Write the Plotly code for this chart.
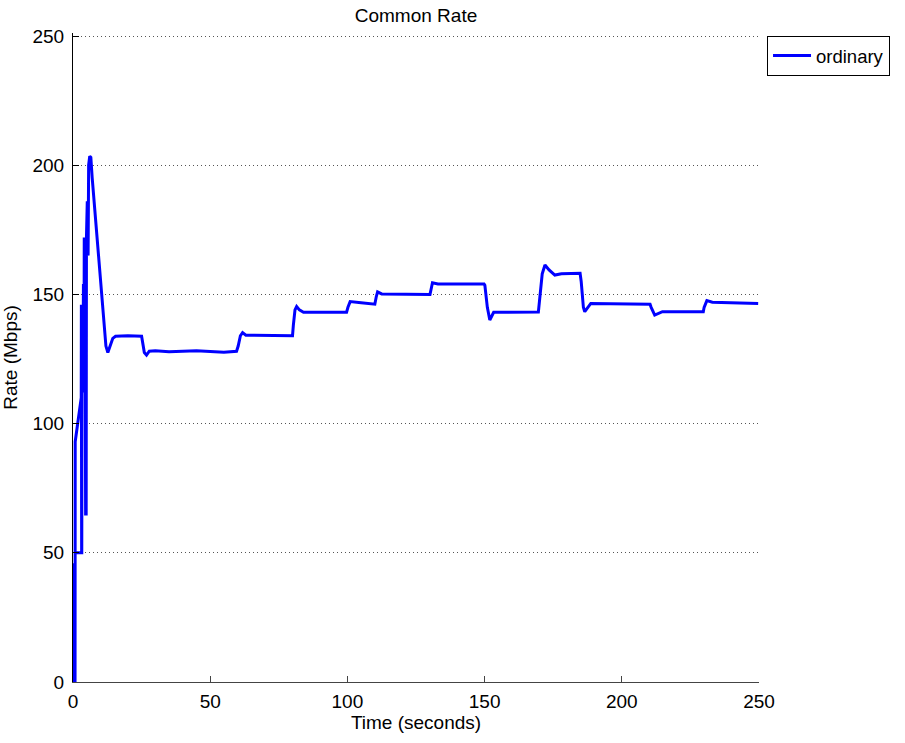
import plotly.graph_objects as go

# Common rate of the "ordinary" flow over time (seconds, Mbps)
time_s = [
    0.0, 0.4, 0.5, 0.6, 0.75,
    0.8, 1.8, 3.0, 3.05, 3.15, 0.8,
    3.2, 3.3, 3.6, 3.8, 4.0, 4.1, 4.4, 4.6, 4.8, 4.9, 5.2, 5.5, 5.7, 6.1, 6.5, 7.0,
    12.0, 12.7, 13.5, 14.5, 15.5, 20.0, 25.0, 25.4, 26.0, 26.8, 27.8, 30.0,
    35.0, 45.0, 55.0, 59.6, 60.2, 61.0, 61.8, 63.0, 70.0, 80.0,
    80.3, 80.9, 81.5, 82.5, 84.0, 99.7,
    100.2, 101.0, 105.0, 110.0,
    110.5, 111.0, 112.5, 130.1,
    130.5, 131.0, 133.0, 149.8,
    150.1, 151.0, 151.9, 153.3, 169.6,
    170.0, 171.0, 172.0, 173.5, 175.6, 178.0, 184.8,
    185.2, 186.0, 186.5, 188.7, 210.3,
    210.7, 212.0, 214.8, 229.7,
    230.0, 231.0, 233.0, 249.7,
]
rate_mbps = [
    0, 0, 46, 0, 0,
    93, 100, 110, 146, 50, 50,
    50, 146, 112, 154, 118, 172, 150, 65, 65, 172, 186, 165, 200, 203.5, 203, 195,
    130, 127.5, 130, 133, 133.8, 134, 133.8, 131, 127.5, 126.5, 128, 128.2,
    127.8, 128.2, 127.6, 128, 130, 134, 135.2, 134.2, 134, 134,
    138, 144, 145.3, 144, 143.1, 143.1,
    145, 147.2, 146.8, 146.2,
    149, 151, 150.2, 150,
    152, 154.5, 154, 154,
    153.5, 145, 140.1, 143.1, 143.2,
    147, 158, 161.4, 159.5, 157.5, 158, 158.2,
    155, 145, 143.3, 146.5, 146.2,
    145, 142, 143.3, 143.3,
    145, 147.6, 147, 146.5,
]

x_ticks = [0, 50, 100, 150, 200, 250]
y_ticks = [0, 50, 100, 150, 200, 250]

FONT = "Liberation Sans, Arial, sans-serif"
FS = 19

fig = go.Figure()
fig.add_trace(go.Scatter(
    x=time_s, y=rate_mbps, mode="lines", name="ordinary",
    line=dict(color="#0000ff", width=3),
))

fig.update_layout(
    width=905, height=743,
    margin=dict(l=73, r=146, t=33, b=61),
    paper_bgcolor="white", plot_bgcolor="white",
    font=dict(family=FONT, size=FS, color="black"),
    title=dict(
        text="Common Rate", x=416 / 905, xanchor="center",
        y=1 - 15 / 743, yanchor="middle", yref="container",
        font=dict(family=FONT, size=FS, color="black"),
    ),
    showlegend=True,
    legend=dict(
        x=1.0117, y=(649 - 3) / 649, xanchor="left", yanchor="top",
        bordercolor="black", borderwidth=1, bgcolor="white",
        font=dict(family=FONT, size=18.5, color="black"),
        itemwidth=38, tracegroupgap=0,
    ),
)

fig.update_xaxes(
    range=[0, 250], tickvals=x_ticks, ticktext=[str(v) for v in x_ticks],
    showgrid=False, zeroline=False,
    showline=True, linecolor="#444444", linewidth=1,
    ticks="inside", ticklen=6, tickcolor="#444444",
    ticklabelstandoff=2,
    title=dict(text="Time (seconds)", standoff=4,
               font=dict(family=FONT, size=FS)),
    automargin=False,
)
# range runs a little past 250 so the dotted 250 grid line sits inside the plot
fig.update_yaxes(
    range=[0, 251.16], tickvals=y_ticks, ticktext=[str(v) for v in y_ticks],
    showgrid=True, gridcolor="#555555", griddash="1px,3px", gridwidth=1,
    zeroline=False,
    showline=True, linecolor="black", linewidth=1,
    ticks="inside", ticklen=6, tickcolor="black",
    ticklabelstandoff=4,
    title=dict(text="Rate (Mbps)", standoff=10,
               font=dict(family=FONT, size=FS)),
    automargin=False,
)

fig.write_html("out.html")
